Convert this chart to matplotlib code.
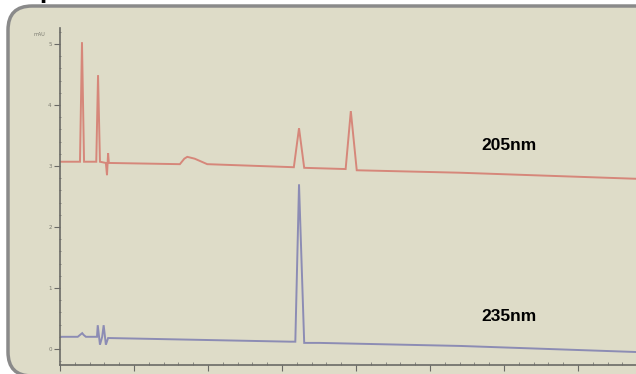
import matplotlib
matplotlib.use('Agg')
import matplotlib.pyplot as plt
from matplotlib.patches import FancyBboxPatch
from matplotlib.ticker import MultipleLocator

# retention time (min) and absorbance (mAU)
t_205 = [0, 0.24, 0.27, 0.297, 0.325, 0.46, 0.49, 0.514, 0.54, 0.62, 0.635, 0.65, 0.66,
         1.62, 1.68, 1.72, 1.82, 1.99, 3.16, 3.23, 3.30, 3.86, 3.93, 4.01, 5.40, 7.80]
a_205 = [3.07, 3.07, 3.07, 5.03, 3.07, 3.07, 3.07, 4.49, 3.07, 3.05, 2.85, 3.21, 3.05,
         3.03, 3.12, 3.15, 3.12, 3.03, 2.98, 3.62, 2.97, 2.95, 3.90, 2.93, 2.89, 2.79]

t_235 = [0, 0.24, 0.27, 0.30, 0.32, 0.35, 0.50, 0.51, 0.54, 0.57, 0.59, 0.62, 0.65,
         3.11, 3.18, 3.23, 3.30, 3.51, 5.41, 7.80]
a_235 = [0.20, 0.20, 0.23, 0.26, 0.23, 0.20, 0.20, 0.39, 0.07, 0.20, 0.39, 0.07, 0.18,
         0.12, 0.12, 2.70, 0.10, 0.10, 0.05, -0.05]

y_ticks = [0, 1, 2, 3, 4, 5]
y_labels = ['0', '1', '2', '3', '4', '5']

W, H = 636, 374
fig = plt.figure(figsize=(6.36, 3.74), dpi=100)
fig.patch.set_facecolor('white')

# background panel with the rounded grey frame (pixel units)
bg = fig.add_axes([0, 0, 1, 1], zorder=-1)
bg.set_xlim(0, W)
bg.set_ylim(H, 0)
bg.axis('off')
bg.add_patch(FancyBboxPatch((8, 6), 700, 370, boxstyle='round,pad=0,rounding_size=24',
                            facecolor='#dedcc8', edgecolor='#8a8a8a', linewidth=2.5))
bg.text(39, -1, 'p', fontsize=15, fontweight='bold', va='baseline', ha='left', color='black')

ax = fig.add_axes([60 / W, 9 / H, 576 / W, (365 - 28) / H])
ax.set_facecolor('none')
ax.plot(t_205, a_205, color='#d6877a', lw=1.4, solid_joinstyle='miter')
ax.plot(t_235, a_235, color='#8c8cb4', lw=1.4, solid_joinstyle='miter')

ax.set_xlim(0, 576 / 74)
ax.set_ylim(-16 / 61, 321 / 61)
for s in ['top', 'right']:
    ax.spines[s].set_visible(False)
for s in ['left', 'bottom']:
    ax.spines[s].set_color('#6a6a66')
    ax.spines[s].set_linewidth(1.2)

ax.xaxis.set_major_locator(MultipleLocator(1))
ax.xaxis.set_minor_locator(MultipleLocator(0.2))
ax.tick_params(axis='x', which='major', direction='out', length=4, color='#6a6a66',
               labelbottom=False)
ax.tick_params(axis='x', which='minor', direction='in', length=2, color='#7a7a76')

ax.set_yticks(y_ticks)
ax.set_yticklabels(y_labels)
ax.yaxis.set_minor_locator(MultipleLocator(0.2))
ax.tick_params(axis='y', which='major', direction='out', length=4, color='#6a6a66',
               labelsize=4, labelcolor='#7a7a70', pad=2)
ax.tick_params(axis='y', which='minor', direction='inout', length=2, color='#7a7a76')
ax.text(-0.2, 5.15, 'mAU', fontsize=3.5, color='#7a7a70', ha='right', va='center')

ax.text(6.07, 3.34, '205nm', fontsize=12.5, fontweight='bold', family='Liberation Sans',
        ha='center', va='center', color='black')
ax.text(6.07, 0.54, '235nm', fontsize=12.5, fontweight='bold', family='Liberation Sans',
        ha='center', va='center', color='black')

fig.savefig('out.png', dpi=100)
